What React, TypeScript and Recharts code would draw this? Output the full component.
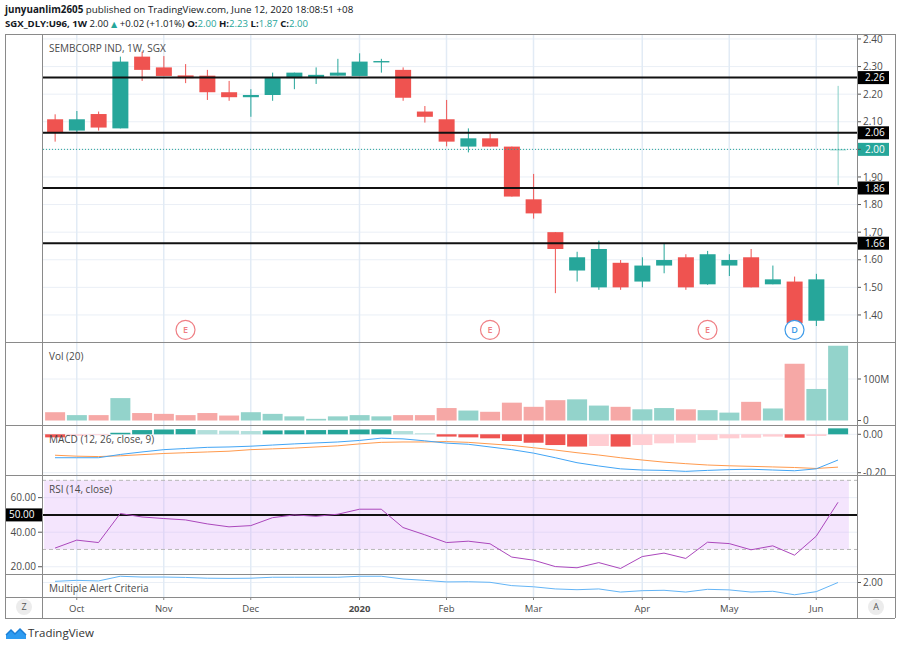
import React from 'react';
import {
  ComposedChart,
  Bar,
  Line,
  XAxis,
  YAxis,
  ReferenceLine,
  ReferenceDot,
  ReferenceArea,
  Cell,
} from 'recharts';

// weekly bars, SGX_DLY:U96
const weeks = [
  '2019-09-30', '2019-10-07', '2019-10-14', '2019-10-21', '2019-10-28', '2019-11-04', '2019-11-11',
  '2019-11-18', '2019-11-25', '2019-12-02', '2019-12-09', '2019-12-16', '2019-12-23', '2019-12-30',
  '2020-01-06', '2020-01-13', '2020-01-20', '2020-01-27', '2020-02-03', '2020-02-10', '2020-02-17',
  '2020-02-24', '2020-03-02', '2020-03-09', '2020-03-16', '2020-03-23', '2020-03-30', '2020-04-06',
  '2020-04-13', '2020-04-20', '2020-04-27', '2020-05-04', '2020-05-11', '2020-05-18', '2020-05-25',
  '2020-06-01', '2020-06-08',
];
const open = [
  2.109, 2.068, 2.128, 2.076, 2.336, 2.297, 2.268, 2.267, 2.207, 2.189, 2.197, 2.258, 2.261, 2.267,
  2.266, 2.315, 2.288, 2.137, 2.109, 2.01, 2.04, 2.01, 1.819, 1.7, 1.561, 1.5, 1.589, 1.521, 1.579,
  1.609, 1.511, 1.579, 1.609, 1.511, 1.521, 1.379, 2.0,
];
const high = [
  2.127, 2.139, 2.137, 2.336, 2.354, 2.338, 2.309, 2.288, 2.248, 2.218, 2.278, 2.278, 2.297, 2.328,
  2.348, 2.328, 2.297, 2.157, 2.179, 2.076, 2.058, 2.01, 1.911, 1.7, 1.629, 1.669, 1.599, 1.609, 1.66,
  1.62, 1.632, 1.62, 1.639, 1.579, 1.539, 1.549, 2.23,
];
const low = [
  2.028, 2.06, 2.068, 2.076, 2.248, 2.266, 2.24, 2.179, 2.176, 2.118, 2.176, 2.218, 2.237, 2.267,
  2.266, 2.278, 2.176, 2.097, 2.011, 1.989, 2.01, 1.829, 1.749, 1.479, 1.521, 1.491, 1.491, 1.5,
  1.551, 1.491, 1.509, 1.541, 1.5, 1.511, 1.36, 1.36, 1.87,
];
const close = [
  2.06, 2.109, 2.079, 2.318, 2.288, 2.266, 2.258, 2.207, 2.189, 2.197, 2.261, 2.278, 2.27, 2.278,
  2.318, 2.32, 2.187, 2.118, 2.028, 2.04, 2.01, 1.829, 1.768, 1.639, 1.609, 1.639, 1.5, 1.579, 1.599,
  1.5, 1.62, 1.599, 1.5, 1.529, 1.37, 1.529, 2.0,
];
// millions of shares
const volume = [
  20, 13, 13, 54, 18, 16, 13, 18, 12, 20, 16, 10, 4, 10, 13, 10, 13, 13, 30, 24, 21, 43, 33, 49, 51,
  36, 33, 27, 30, 27, 25, 19, 45, 29, 137, 76, 180,
];
const macd = [
  -0.122, -0.122, -0.122, -0.105, -0.092, -0.08, -0.074, -0.068, -0.066, -0.062, -0.056, -0.05,
  -0.045, -0.04, -0.032, -0.02, -0.024, -0.034, -0.046, -0.052, -0.066, -0.08, -0.098, -0.122,
  -0.148, -0.165, -0.18, -0.186, -0.188, -0.193, -0.188, -0.184, -0.182, -0.186, -0.19, -0.18, -0.134,
];
const signal = [
  -0.109, -0.114, -0.116, -0.112, -0.106, -0.1, -0.096, -0.092, -0.088, -0.08, -0.076, -0.072,
  -0.066, -0.06, -0.05, -0.042, -0.04, -0.04, -0.038, -0.042, -0.05, -0.058, -0.07, -0.082, -0.096,
  -0.108, -0.122, -0.134, -0.145, -0.153, -0.16, -0.164, -0.167, -0.17, -0.173, -0.178, -0.171,
];
const hist = [
  -0.016, -0.008, -0.005, 0.008, 0.022, 0.025, 0.027, 0.022, 0.019, 0.017, 0.02, 0.021, 0.022,
  0.023, 0.025, 0.026, 0.017, 0.005, -0.012, -0.016, -0.021, -0.035, -0.044, -0.056, -0.064, -0.061,
  -0.064, -0.056, -0.047, -0.044, -0.03, -0.021, -0.018, -0.012, -0.018, -0.009, 0.031,
];
const rsi = [
  30.8, 35.4, 34.0, 50.8, 48.8, 47.9, 47.1, 44.8, 43.1, 43.8, 48.4, 50.0, 49.2, 50.4, 53.3, 53.3,
  42.7, 38.5, 34.0, 34.8, 33.3, 25.6, 23.8, 20.1, 19.4, 22.4, 19.0, 25.9, 27.9, 24.8, 34.2, 33.4,
  29.8, 32.1, 26.7, 37.7, 57.3,
];
const alertLine = [
  2.06, 2.11, 2.08, 2.32, 2.28, 2.28, 2.26, 2.22, 2.21, 2.22, 2.27, 2.27, 2.27, 2.27, 2.32, 2.32,
  2.18, 2.11, 2.03, 2.04, 2.01, 1.84, 1.78, 1.67, 1.63, 1.67, 1.51, 1.58, 1.6, 1.51, 1.65, 1.62, 1.51,
  1.55, 1.37, 1.53, 2.0,
];

const priceTicks = [1.4, 1.5, 1.6, 1.7, 1.8, 1.9, 2.0, 2.1, 2.2, 2.3, 2.4];
const volTicks = [0, 100e6];
const macdTicks = [-0.2, 0];
const rsiTicks = [20, 40, 60];
const alertTicks = [2];
const levels = [2.26, 2.06, 1.86, 1.66];
const monthWeeks = ['2019-10-07', '2019-11-04', '2019-12-02', '2020-01-06', '2020-02-03', '2020-03-02', '2020-04-06', '2020-05-04', '2020-06-01'];
const monthLabels = ['Oct', 'Nov', 'Dec', '2020', 'Feb', 'Mar', 'Apr', 'May', 'Jun'];
const eventWeeks = ['2019-11-11', '2020-02-17', '2020-04-27', '2020-05-25'];
const eventLabels = ['E', 'E', 'E', 'D'];

const rows = weeks.map((week, i) => ({
  week,
  open: open[i],
  high: high[i],
  low: low[i],
  close: close[i],
  vol: volume[i] * 1e6,
  macd: macd[i],
  signal: signal[i],
  hist: hist[i],
  rsi: rsi[i],
  alert: alertLine[i],
}));

const last = weeks.length - 1;
const FONT = '"Open Sans", "DejaVu Sans", sans-serif';
const TEAL = '#26a69a';
const RED = '#ef5350';
const H_GRID = '#eaeff6';
const V_GRID = '#e2ebf5';
const AXIS_TEXT = '#4a4a4a';
const BORDER = '#8a8a8a';
const XPAD = { left: 2.125, right: 8.125 };

const PRICE_DOMAIN = [1.302, 2.418];
const VOL_DOMAIN = [-10.84e6, 189.2e6];
const MACD_DOMAIN = [-0.212, 0.0484];
const RSI_DOMAIN = [15.8, 73.1];
const ALERT_DOMAIN = [1.256, 2.436];

const Candle = (props: any) => {
  const { x, y, width, height, payload } = props;
  const top = Math.min(y, y + height);
  const bottom = Math.max(y, y + height);
  const span = payload.high - payload.low;
  const toY = (p: number) => bottom - ((p - payload.low) / span) * (bottom - top);
  const isLast = payload.week === weeks[last];
  const color = isLast ? '#86cfc7' : payload.close >= payload.open ? TEAL : RED;
  const yo = toY(payload.open);
  const yc = toY(payload.close);
  const cx = x + width / 2;
  return (
    <g>
      <line x1={cx} x2={cx} y1={top} y2={bottom} stroke={color} strokeWidth={1} />
      <rect x={x} y={Math.min(yo, yc)} width={width} height={Math.max(1, Math.abs(yc - yo))} fill={color} />
    </g>
  );
};

const tag = (text: string, bg: string, side: 'left' | 'right') => (props: any) => {
  const vb = props.viewBox;
  const x = side === 'right' ? vb.x + vb.width + 1 : vb.x - 37;
  return (
    <g>
      <rect x={x} y={vb.y - 6.5} width={side === 'right' ? 31 : 37} height={13} fill={bg} />
      <text x={side === 'right' ? x + 7 : x + 4} y={vb.y + 3.5} fill="#fff" fontSize={10}>
        {text}
      </text>
    </g>
  );
};

const EventMark = (props: any) => {
  const { cx, cy, letter } = props;
  const color = letter === 'D' ? '#3d9be9' : '#ef7f84';
  return (
    <g>
      <circle cx={cx} cy={cy} r={9.5} fill="#fff" stroke={color} strokeWidth={1.2} />
      <text x={cx} y={cy + 3.3} textAnchor="middle" fontSize={9} fontWeight={600} fill={color}>
        {letter}
      </text>
    </g>
  );
};

const MonthTick = (p: any) => {
  const label = monthLabels[monthWeeks.indexOf(p.payload.value)];
  return (
    <text x={p.x} y={p.y} dy="0.71em" textAnchor="middle" fontSize={9.5} fill={AXIS_TEXT} fontWeight={label === '2020' ? 700 : 400}>
      {label}
    </text>
  );
};

const histColor = (i: number) => {
  const v = hist[i];
  const p = i > 0 ? hist[i - 1] : 0;
  if (v >= 0) return v > p ? TEAL : '#b2dfdb';
  return v < p ? RED : '#ffcdd2';
};

const axisTick = { fill: AXIS_TEXT, fontSize: 10 };

const rightAxis = (domain: number[], ticks: number[], fmt: (v: number) => string) => (
  <YAxis
    orientation="right"
    width={38}
    domain={domain}
    allowDataOverflow
    ticks={ticks}
    interval={0}
    tickFormatter={fmt}
    tick={axisTick}
    tickSize={4}
    tickMargin={2}
    axisLine={false}
    tickLine={{ stroke: '#555' }}
  />
);

// grid drawn in its own chart under each pane so it stays behind the marks
const GridLayer = ({ height, domain, ticks, top = 0, bottom = 0 }: any) => (
  <ComposedChart width={900} height={height} data={rows} margin={{ top, bottom, left: 42, right: 43 }}>
    <XAxis dataKey="week" hide scale="band" padding={XPAD} />
    <YAxis hide domain={domain} allowDataOverflow />
    {ticks.map((v: number) => (
      <ReferenceLine key={v} y={v} stroke={H_GRID} />
    ))}
    {monthWeeks.map((w) => (
      <ReferenceLine key={w} x={w} stroke={V_GRID} strokeWidth={1.5} />
    ))}
  </ComposedChart>
);

const abs = (left: number, top: number, extra: React.CSSProperties = {}): React.CSSProperties => ({
  position: 'absolute',
  left,
  top,
  ...extra,
});

const hLine = (top: number) => (
  <div key={'h' + top} style={abs(5, top, { width: 890, height: 1, background: BORDER })} />
);
const vLine = (left: number) => (
  <div key={'v' + left} style={abs(left, 34, { width: 1, height: 584, background: BORDER })} />
);

const title = (text: string, top: number) => (
  <div style={abs(49, top, { fontSize: 10, color: AXIS_TEXT, whiteSpace: 'nowrap', lineHeight: '12px' })}>{text}</div>
);

export default function App() {
  return (
    <div style={abs(0, 0, { width: 900, height: 648, background: '#fff', fontFamily: FONT, overflow: 'hidden' })}>
      <div style={abs(5, 3, { fontSize: 9.8, color: '#131722', whiteSpace: 'nowrap', lineHeight: '14px' })}>
        <b>junyuanlim2605</b> published on TradingView.com, June 12, 2020 18:08:51 +08
      </div>
      <div style={abs(5, 16.5, { fontSize: 9.6, color: '#131722', whiteSpace: 'nowrap', lineHeight: '14px' })}>
        <b>SGX_DLY:U96, 1W</b> {close[last].toFixed(2)} <span style={{ color: TEAL, fontSize: 8 }}>▲</span> +0.02 (+1.01%){' '}
        <b>O:</b>
        <span style={{ color: TEAL }}>{open[last].toFixed(2)}</span> <b>H:</b>
        <span style={{ color: TEAL }}>{high[last].toFixed(2)}</span> <b>L:</b>
        <span style={{ color: TEAL }}>{low[last].toFixed(2)}</span> <b>C:</b>
        <span style={{ color: TEAL }}>{close[last].toFixed(2)}</span>
      </div>

      {/* price pane */}
      <div style={abs(0, 28)}>
        <GridLayer height={314} top={6} domain={PRICE_DOMAIN} ticks={priceTicks} />
      </div>
      <div style={abs(0, 28)}>
        <ComposedChart width={900} height={314} data={rows} margin={{ top: 6, bottom: 0, left: 42, right: 5 }}>
          <XAxis dataKey="week" hide scale="band" padding={XPAD} />
          {rightAxis(PRICE_DOMAIN, priceTicks, (v) => (v === close[last] ? '' : v.toFixed(2)))}
          <Bar dataKey={(d: any) => [d.low, d.high]} barSize={16} isAnimationActive={false} shape={(p: any) => <Candle {...p} />} />
          <ReferenceLine y={close[last]} stroke={TEAL} strokeDasharray="1 2" label={tag(close[last].toFixed(2), TEAL, 'right')} />
          {levels.map((l) => (
            <ReferenceLine key={l} y={l} stroke="#111" strokeWidth={2} label={tag(l.toFixed(2), '#000', 'right')} />
          ))}
          {eventWeeks.map((w, i) => (
            <ReferenceDot key={w} x={w} y={1.346} r={9.5} shape={(p: any) => <EventMark {...p} letter={eventLabels[i]} />} />
          ))}
        </ComposedChart>
      </div>

      {/* volume pane */}
      <div style={abs(0, 342)}>
        <GridLayer height={83} domain={VOL_DOMAIN} ticks={[100e6]} />
      </div>
      <div style={abs(0, 342)}>
        <ComposedChart width={900} height={89} data={rows} margin={{ top: 0, bottom: 6, left: 42, right: 5 }}>
          <XAxis dataKey="week" hide scale="band" padding={XPAD} />
          {rightAxis(VOL_DOMAIN, volTicks, (v) => (v === 0 ? '0' : `${v / 1e6}M`))}
          <Bar dataKey="vol" barSize={20} isAnimationActive={false}>
            {rows.map((r, i) => (
              <Cell key={i} fill={r.close >= r.open ? '#93d3cb' : '#f6a8a6'} />
            ))}
          </Bar>
        </ComposedChart>
      </div>

      {/* MACD pane */}
      <div style={abs(0, 425)}>
        <GridLayer height={50} domain={MACD_DOMAIN} ticks={macdTicks} />
      </div>
      <div style={abs(0, 425)}>
        <ComposedChart width={900} height={50} data={rows} margin={{ top: 0, bottom: 0, left: 42, right: 5 }}>
          <XAxis dataKey="week" hide scale="band" padding={XPAD} />
          {rightAxis(MACD_DOMAIN, macdTicks, (v) => v.toFixed(2))}
          <Bar dataKey="hist" barSize={20} isAnimationActive={false}>
            {rows.map((r, i) => (
              <Cell key={i} fill={histColor(i)} />
            ))}
          </Bar>
          <Line dataKey="signal" type="linear" stroke="#ff9a4d" strokeWidth={1} dot={false} isAnimationActive={false} />
          <Line dataKey="macd" type="linear" stroke="#42a5f5" strokeWidth={1} dot={false} isAnimationActive={false} />
        </ComposedChart>
      </div>

      {/* RSI pane */}
      <div style={abs(0, 475)}>
        <GridLayer height={99} domain={RSI_DOMAIN} ticks={rsiTicks} />
      </div>
      <div style={abs(0, 475)}>
        <ComposedChart width={900} height={99} data={rows} margin={{ top: 0, bottom: 0, left: 5, right: 43 }}>
          <XAxis dataKey="week" hide scale="band" padding={XPAD} />
          <YAxis
            orientation="left"
            width={37}
            domain={RSI_DOMAIN}
            allowDataOverflow
            ticks={rsiTicks}
            interval={0}
            tickFormatter={(v: number) => v.toFixed(2)}
            tick={axisTick}
            tickSize={4}
            tickMargin={2}
            axisLine={false}
            tickLine={{ stroke: '#555' }}
          />
          <ReferenceArea y1={30} y2={70} fill="#d9a8f8" fillOpacity={0.3} stroke="none" />
          <ReferenceLine y={70} stroke="#b9b9b9" strokeDasharray="4 3" />
          <ReferenceLine y={30} stroke="#b9b9b9" strokeDasharray="4 3" />
          <ReferenceLine y={50} stroke="#111" strokeWidth={2} label={tag('50.00', '#000', 'left')} />
          <Line dataKey="rsi" type="linear" stroke="#ab47bc" strokeWidth={1} dot={false} isAnimationActive={false} />
        </ComposedChart>
      </div>

      {/* alert pane + time axis */}
      <div style={abs(0, 574)}>
        <GridLayer height={23} domain={ALERT_DOMAIN} ticks={alertTicks} />
      </div>
      <div style={abs(0, 574)}>
        <ComposedChart width={900} height={44} data={rows} margin={{ top: 0, bottom: 0, left: 42, right: 5 }}>
          <XAxis
            dataKey="week"
            scale="band"
            padding={XPAD}
            height={21}
            ticks={monthWeeks}
            interval={0}
            tick={(p: any) => <MonthTick {...p} />}
            tickSize={3}
            tickMargin={5}
            tickLine={{ stroke: '#888' }}
            axisLine={false}
          />
          {rightAxis(ALERT_DOMAIN, alertTicks, (v) => v.toFixed(2))}
          <Line dataKey="alert" type="linear" stroke="#64b5f6" strokeWidth={1} dot={false} isAnimationActive={false} />
        </ComposedChart>
      </div>

      {title('SEMBCORP IND, 1W, SGX', 42)}
      {title('Vol (20)', 350)}
      {title('MACD (12, 26, close, 9)', 433)}
      {title('RSI (14, close)', 483)}
      {title('Multiple Alert Criteria', 582)}

      {[34, 342, 425, 475, 574, 597, 618].map(hLine)}
      {[5, 42, 857, 895].map(vLine)}

      <div style={abs(16, 599, { width: 16, height: 16, borderRadius: 8, background: '#ececec', color: '#555', fontSize: 9, textAlign: 'center', lineHeight: '16px' })}>Z</div>
      <div style={abs(868, 599, { width: 16, height: 16, borderRadius: 8, background: '#ececec', color: '#555', fontSize: 9, textAlign: 'center', lineHeight: '16px' })}>A</div>

      <svg style={abs(5, 626)} width={22} height={14} viewBox="0 0 22 14">
        <path d="M1 13 L1 9 L6 4 L10 8 L15 3 L21 9 L21 13 Z" fill="#2e9bf0" />
        <path d="M1 9 L6 4 L10 8 L15 3 L21 9" fill="none" stroke="#1c7fd6" strokeWidth={1.5} />
      </svg>
      <div style={abs(28, 626, { fontSize: 11.5, color: '#333', lineHeight: '14px' })}>TradingView</div>
    </div>
  );
}
